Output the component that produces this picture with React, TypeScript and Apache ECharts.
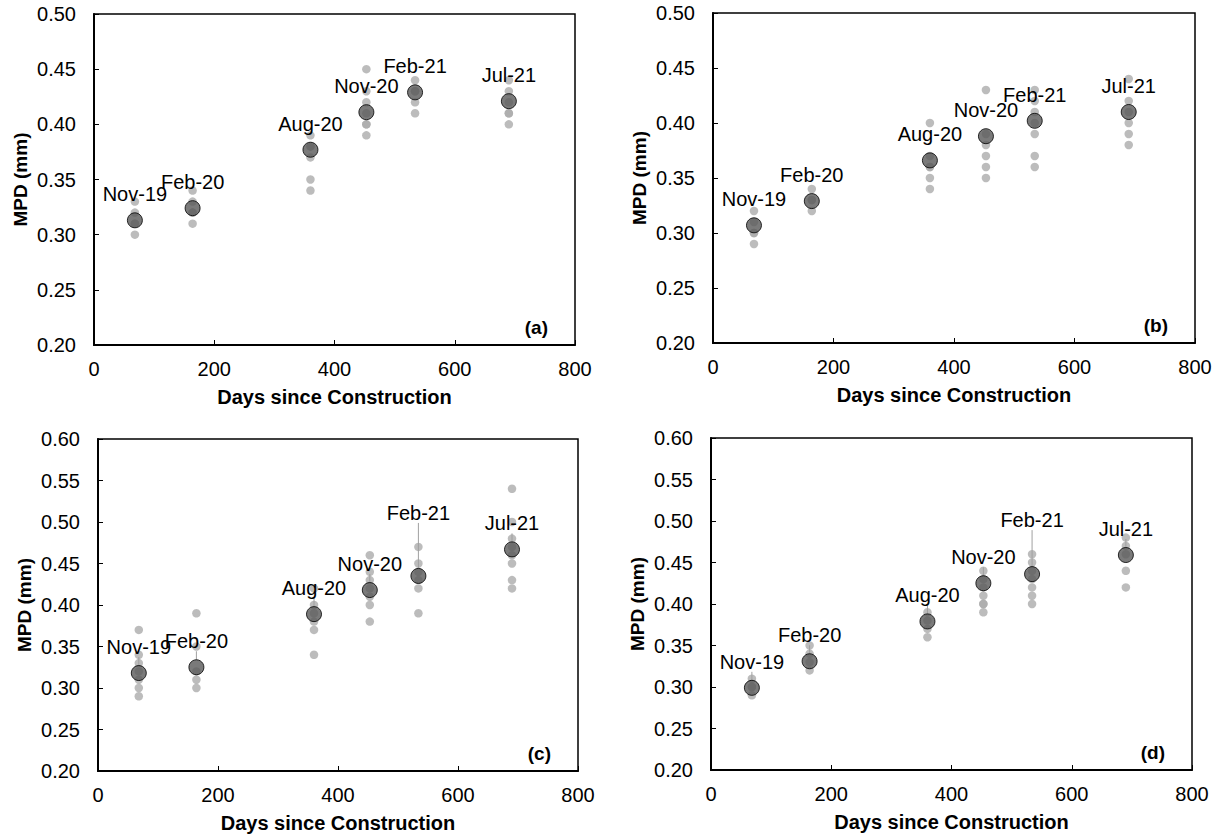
import React, { useEffect, useRef } from "react";
import * as echarts from "echarts";

const days = [68, 164, 360, 453, 534, 690];
const campaigns = ["Nov-19", "Feb-20", "Aug-20", "Nov-20", "Feb-21", "Jul-21"];
const xTicks = { min: 0, max: 800, interval: 200 };

const pointsA = [
  [0.33, 0.32, 0.31, 0.31, 0.3],
  [0.34, 0.33, 0.32, 0.32, 0.31],
  [0.39, 0.38, 0.38, 0.37, 0.35, 0.34],
  [0.45, 0.43, 0.42, 0.41, 0.4, 0.4, 0.39],
  [0.44, 0.43, 0.43, 0.42, 0.41],
  [0.44, 0.43, 0.42, 0.41, 0.41, 0.4],
];
const meansA = [0.313, 0.324, 0.377, 0.411, 0.429, 0.421];

const pointsB = [
  [0.32, 0.31, 0.3, 0.3, 0.29],
  [0.34, 0.33, 0.33, 0.32],
  [0.4, 0.37, 0.36, 0.36, 0.35, 0.34],
  [0.43, 0.39, 0.38, 0.37, 0.36, 0.35],
  [0.43, 0.42, 0.41, 0.4, 0.39, 0.37, 0.36],
  [0.44, 0.42, 0.41, 0.4, 0.39, 0.38],
];
const meansB = [0.307, 0.329, 0.366, 0.388, 0.402, 0.41];

const pointsC = [
  [0.37, 0.34, 0.33, 0.32, 0.31, 0.3, 0.29],
  [0.39, 0.35, 0.32, 0.31, 0.3],
  [0.42, 0.4, 0.39, 0.38, 0.37, 0.34],
  [0.46, 0.44, 0.43, 0.42, 0.41, 0.4, 0.38],
  [0.47, 0.45, 0.44, 0.43, 0.42, 0.39],
  [0.54, 0.5, 0.48, 0.47, 0.46, 0.45, 0.43, 0.42],
];
const meansC = [0.318, 0.325, 0.389, 0.418, 0.435, 0.467];

const pointsD = [
  [0.31, 0.3, 0.3, 0.29],
  [0.35, 0.34, 0.33, 0.32],
  [0.39, 0.38, 0.37, 0.36],
  [0.44, 0.43, 0.42, 0.41, 0.4, 0.4, 0.39],
  [0.46, 0.45, 0.44, 0.43, 0.42, 0.41, 0.4],
  [0.48, 0.47, 0.46, 0.44, 0.42],
];
const meansD = [0.299, 0.331, 0.379, 0.425, 0.436, 0.459];

const panelTags = ["(a)", "(b)", "(c)", "(d)"];
const yRanges = [
  { min: 0.2, max: 0.5, interval: 0.05 },
  { min: 0.2, max: 0.5, interval: 0.05 },
  { min: 0.2, max: 0.6, interval: 0.05 },
  { min: 0.2, max: 0.6, interval: 0.05 },
];
const xTitle = "Days since Construction";
const yTitle = "MPD (mm)";

const FONT = "'Liberation Sans', Arial, sans-serif";

export default function App() {
  const ref = useRef<HTMLDivElement>(null);

  useEffect(() => {
    document.body.style.margin = "0";
    if (!ref.current) return;
    const chart = echarts.init(ref.current, null, { renderer: "svg" });

    const grids = [
      { left: 94, top: 14, width: 481, height: 331 },
      { left: 713, top: 13, width: 482, height: 330 },
      { left: 98, top: 439, width: 480, height: 332 },
      { left: 711, top: 438, width: 481, height: 332 },
    ];
    const panels = [
      { pts: pointsA, means: meansA, leader: false },
      { pts: pointsB, means: meansB, leader: false },
      { pts: pointsC, means: meansC, leader: true },
      { pts: pointsD, means: meansD, leader: true },
    ];

    const xAxes = grids.map((_, i) => ({
      type: "value",
      gridIndex: i,
      min: xTicks.min,
      max: xTicks.max,
      interval: xTicks.interval,
      name: xTitle,
      nameLocation: "middle",
      nameGap: 42,
      nameTextStyle: { fontFamily: FONT, fontSize: 20, fontWeight: "bold", color: "#000" },
      axisLine: { show: true, lineStyle: { color: "#000", width: 2 } },
      axisTick: { show: true, inside: true, length: 5, lineStyle: { color: "#000", width: 1 } },
      axisLabel: { fontFamily: FONT, fontSize: 20, color: "#000", margin: 14 },
      splitLine: { show: false },
    }));

    const yAxes = grids.map((_, i) => ({
      type: "value",
      gridIndex: i,
      min: yRanges[i].min,
      max: yRanges[i].max,
      interval: yRanges[i].interval,
      name: yTitle,
      nameLocation: "middle",
      nameGap: 64,
      nameTextStyle: { fontFamily: FONT, fontSize: 19, fontWeight: "bold", color: "#000" },
      axisLine: { show: true, lineStyle: { color: "#000", width: 2 } },
      axisTick: { show: true, inside: true, length: 5, lineStyle: { color: "#000", width: 1 } },
      axisLabel: {
        fontFamily: FONT,
        fontSize: 20,
        color: "#000",
        margin: 18,
        formatter: (v: number) => v.toFixed(2),
      },
      splitLine: { show: false },
    }));

    const series: any[] = [];
    panels.forEach((p, i) => {
      const raw: number[][] = [];
      p.pts.forEach((vals, j) => vals.forEach((v) => raw.push([days[j], v])));
      series.push({
        type: "scatter",
        xAxisIndex: i,
        yAxisIndex: i,
        data: raw,
        symbolSize: 8.5,
        itemStyle: { color: "#ABABAB" },
        z: 2,
        silent: true,
      });
      series.push({
        type: "scatter",
        xAxisIndex: i,
        yAxisIndex: i,
        data: p.means.map((v, j) => ({ name: campaigns[j], value: [days[j], v] })),
        symbolSize: 15,
        itemStyle: { color: "#595959", borderColor: "#000", borderWidth: 1 },
        z: 5,
        label: {
          show: true,
          position: "top",
          distance: 8,
          formatter: "{b}",
          fontFamily: FONT,
          fontSize: 20,
          color: "#000",
          opacity: 1,
        },
        labelLine: p.leader
          ? { show: true, lineStyle: { color: "#A0A0A0", width: 1 } }
          : { show: false },
        labelLayout: p.leader
          ? (params: any) => (params.dataIndex === 4 ? { dy: i === 2 ? -37 : -28 } : {})
          : undefined,
      });
    });

    const graphic = grids.map((g, i) => ({
      type: "text",
      x: g.left + g.width - 27,
      y: g.top + g.height - 18,
      style: {
        text: panelTags[i],
        font: `bold 19px ${FONT}`,
        fill: "#000",
        textAlign: "right",
        textVerticalAlign: "middle",
      },
      z: 10,
    }));

    chart.setOption({
      animation: false,
      backgroundColor: "#fff",
      grid: grids.map((g) => ({
        ...g,
        show: true,
        borderColor: "#000",
        borderWidth: 1.5,
        backgroundColor: "transparent",
        containLabel: false,
      })),
      xAxis: xAxes,
      yAxis: yAxes,
      series,
      graphic,
    });

    return () => chart.dispose();
  }, []);

  return <div ref={ref} style={{ width: 1221, height: 840 }} />;
}
